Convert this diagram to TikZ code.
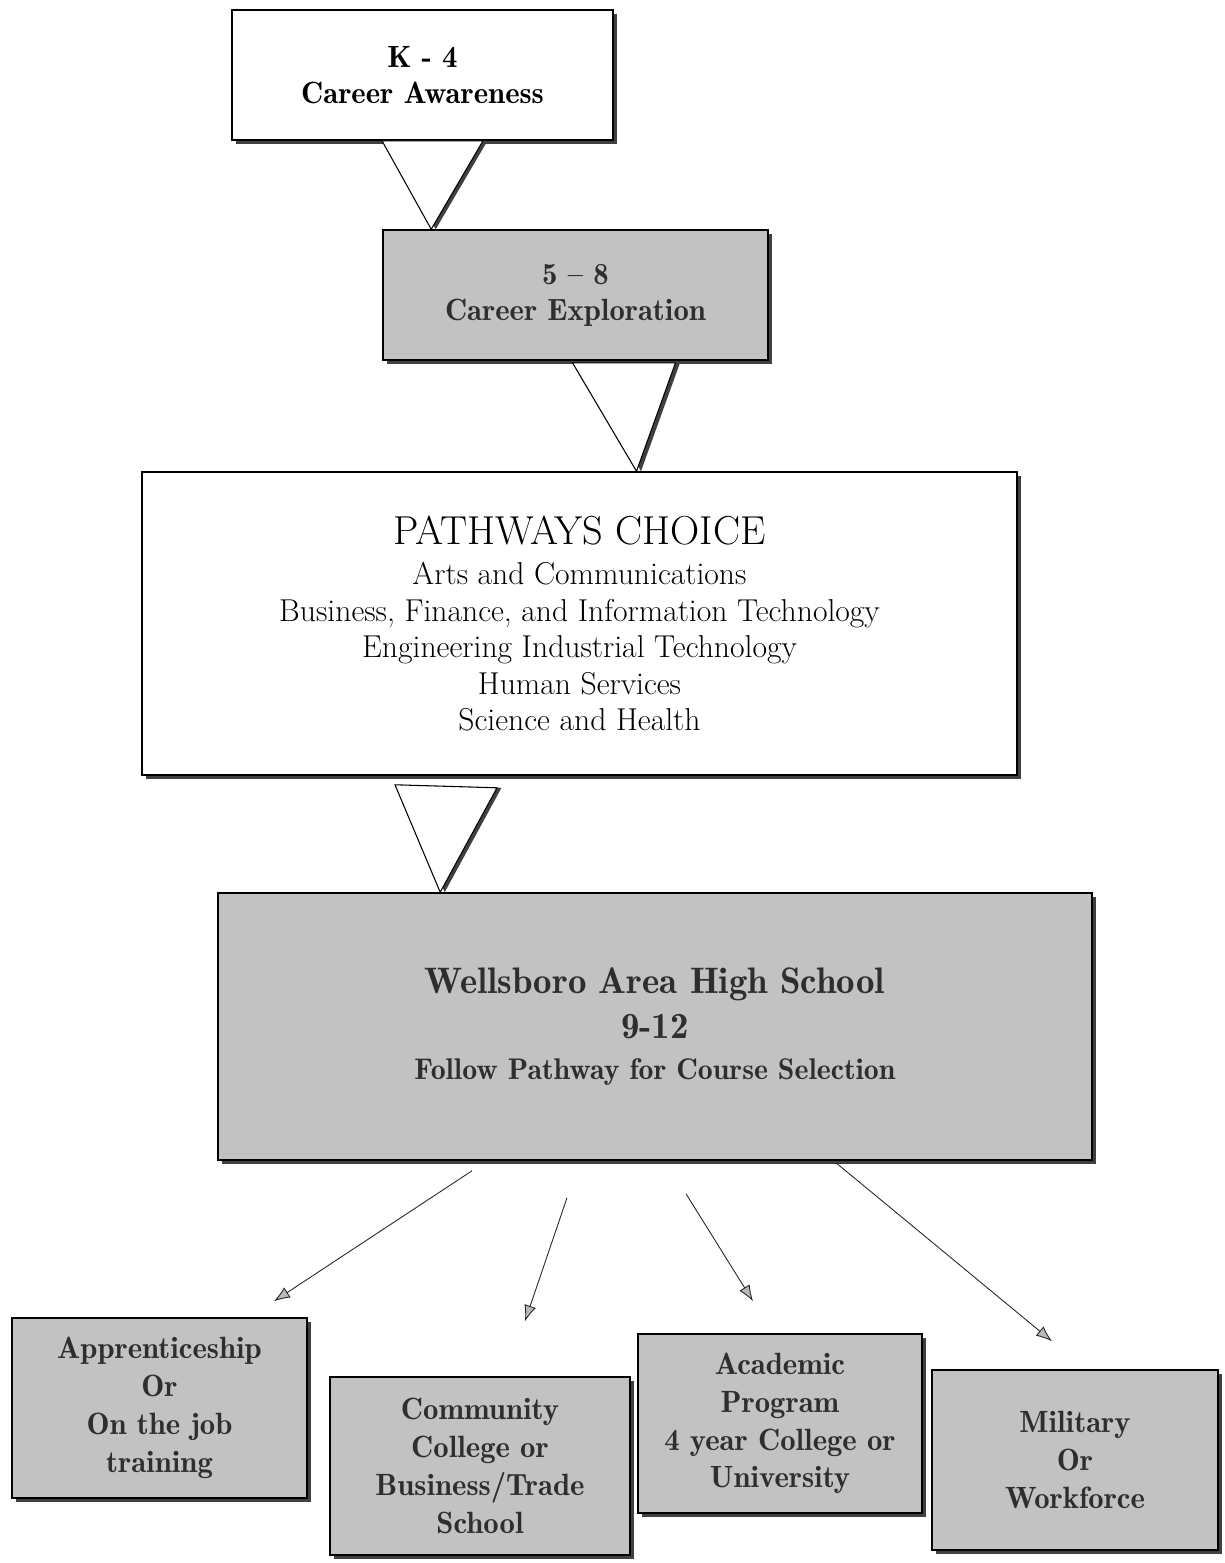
\documentclass[tikz,border=0pt]{standalone}
\usetikzlibrary{shadows,calc,arrows.meta}

\tikzset{
    stage/.style={draw=black, line width=0.9pt, align=center, inner sep=0pt,
        drop shadow={shadow xshift=0.8mm, shadow yshift=-0.8mm, fill=black!75, opacity=1}},
    whitestage/.style={stage, fill=white},
    greystage/.style={stage, fill=gray!48, text=black!82},
    funnel/.style={draw=black, line width=0.6pt, fill=white,
        drop shadow={shadow xshift=0.9mm, shadow yshift=0mm, fill=black!75, opacity=1}},
    outlet/.style={-{Latex[length=3.2mm, width=2.4mm, fill=gray!55]}, line width=0.5pt, draw=black!85},
    boldtext/.style={font=\fontseries{b}\selectfont\fontsize{17.5}{21.5}\selectfont},
}

\begin{document}
\begin{tikzpicture}[x=0.2mm, y=-0.2mm]
    \useasboundingbox (0,0) rectangle (1225,1563);

    % elementary and middle grades
    \node[whitestage, boldtext, minimum width=76.2mm, minimum height=26mm] (k4) at (422.5, 75)
        {K - 4\\[-1pt]Career Awareness};
    \node[greystage, boldtext, minimum width=77mm, minimum height=26mm] (ce) at (575.5, 295)
        {5 -- 8\\[-1pt]Career Exploration};

    % pathways
    \node[whitestage, font=\fontsize{18}{20.8}\selectfont, minimum width=175mm, minimum height=60.6mm] (pw) at (579.5, 623.5)
        {{\fontsize{23}{26}\selectfont PATHWAYS CHOICE}\\[2pt]
         Arts and Communications\\
         Business, Finance, and Information Technology\\
         Engineering Industrial Technology\\
         Human Services\\
         Science and Health};

    % high school
    \node[greystage, font=\fontseries{b}\selectfont\fontsize{17}{20.5}\selectfont, minimum width=174.8mm, minimum height=53.4mm] (hs) at (655, 1026.5)
        {{\fontsize{21}{24}\selectfont Wellsboro Area High School}\\[5pt]
         {\fontsize{21}{24}\selectfont 9-12}\\[3pt]
         Follow Pathway for Course Selection};

    % outcomes after graduation
    \node[greystage, boldtext, minimum width=59mm, minimum height=36mm] (ap) at (159.5, 1408)
        {Apprenticeship\\Or\\On the job\\training};
    \node[greystage, boldtext, minimum width=60mm, minimum height=35.6mm] (cc) at (480, 1466)
        {Community\\College or\\Business/Trade\\School};
    \node[greystage, boldtext, minimum width=56.8mm, minimum height=35.8mm] (ac) at (780, 1423.5)
        {Academic\\Program\\4 year College or\\University};
    \node[greystage, boldtext, minimum width=57.2mm, minimum height=36mm] (mw) at (1075, 1460)
        {Military\\Or\\Workforce};

    % hollow funnels between the stages
    \draw[funnel] ($(k4.south)+(-40.5,0)$) -- ($(k4.south)+(60.5,0)$) -- ($(ce.north west)+(49,0)$) -- cycle;
    \draw[funnel] ($(ce.south)+(-3,2)$) -- ($(ce.south)+(100,2)$) -- ($(pw.north)+(57,0)$) -- cycle;
    \draw[funnel] ($(pw.south)+(-184.5,9)$) -- ($(pw.south)+(-82.5,12)$) -- ($(hs.north west)+(223,0)$) -- cycle;

    % arrows out of the high school
    \draw[outlet] ($(hs.south)+(-183,10)$) -- ($(ap.north)+(114.5,-16)$);
    \draw[outlet] ($(hs.south)+(-88,37)$) -- ($(cc.north)+(45,-55)$);
    \draw[outlet] ($(hs.south)+(31,33)$) -- ($(ac.north)+(-27,-32)$);
    \draw[outlet] ($(hs.south)+(181,2)$) -- ($(mw.north)+(-23,-28)$);
\end{tikzpicture}
\end{document}
